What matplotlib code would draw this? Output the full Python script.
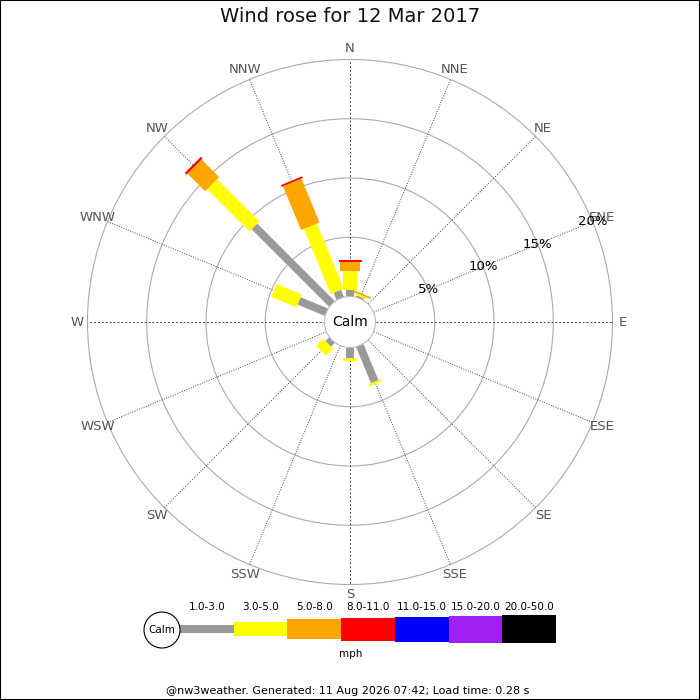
import numpy as np
import matplotlib
matplotlib.use("Agg")
import matplotlib.pyplot as plt
from matplotlib.patches import Rectangle, Circle
from matplotlib.transforms import Affine2D

# directions (compass, clockwise from north)
directions = ["N", "NNE", "NE", "ENE", "E", "ESE", "SE", "SSE",
              "S", "SSW", "SW", "WSW", "W", "WNW", "NW", "NNW"]
angles = np.arange(len(directions)) * 22.5

speed_bins = ["1.0-3.0", "3.0-5.0", "5.0-8.0", "8.0-11.0",
              "11.0-15.0", "15.0-20.0", "20.0-50.0"]
bin_colors = ["#999999", "#ffff00", "#ffa500", "#ff0000",
              "#0000ff", "#a020f0", "#000000"]

# % of time per direction, per speed bin
freq_1_3 = [0.55, 0.15, 0, 0, 0, 0, 0, 3.3, 0.9, 0, 0.45, 0, 0, 2.5, 9.25, 0.65]
freq_3_5 = [1.6, 0.15, 0, 0, 0, 0, 0, 0.2, 0.2, 0, 0.85, 0, 0, 2.3, 5.05, 5.95]
freq_5_8 = [0.75, 0.15, 0, 0, 0, 0, 0, 0, 0, 0, 0, 0, 0, 0, 2.1, 4.0]
freq_8_11 = [0.15, 0, 0, 0, 0, 0, 0, 0, 0, 0, 0, 0, 0, 0, 0.2, 0.15]
freq_11_15 = [0] * 16
freq_15_20 = [0] * 16
freq_20_50 = [0] * 16
freqs = [freq_1_3, freq_3_5, freq_5_8, freq_8_11, freq_11_15, freq_15_20, freq_20_50]

rings = [5, 10, 15, 20]

# bar thickness per speed bin (pixels)
bar_px = [8, 14, 20, 23, 25, 27, 28]

PX = 11.85              # pixels per percent
CALM_R = 25.5 / PX      # calm circle radius in percent units
LABEL_R = 273 / PX

fig = plt.figure(figsize=(7, 7), dpi=100)
half = 25
w_frac = 2 * half * PX / 700
ax = fig.add_axes([(350 - half * PX) / 700, (378 - half * PX) / 700, w_frac, w_frac])
ax.set_xlim(-half, half)
ax.set_ylim(-half, half)
ax.set_aspect("equal")
ax.axis("off")

# rings
for r in rings:
    ax.add_patch(Circle((0, 0), CALM_R + r, fill=False, ec="#aaaaaa", lw=0.8, zorder=1))

# spokes + direction labels
for d, a in zip(directions, angles):
    t = np.deg2rad(90 - a)
    ls = (0, (2, 2)) if d in ("N", "E", "S", "W") else (0, (1, 1.5))
    ax.plot([CALM_R * np.cos(t), (CALM_R + rings[-1]) * np.cos(t)],
            [CALM_R * np.sin(t), (CALM_R + rings[-1]) * np.sin(t)],
            ls=ls, color="#444444", lw=0.7, zorder=2)
    ax.text(LABEL_R * np.cos(t), LABEL_R * np.sin(t), d, ha="center", va="center",
            color="#555555", fontsize=9.5)

# stacked bars
for i, a in enumerate(angles):
    r0 = CALM_R
    rot = Affine2D().rotate_deg(90 - a) + ax.transData
    for k in range(len(speed_bins)):
        v = freqs[k][i]
        if v <= 0:
            continue
        w = bar_px[k] / PX
        ax.add_patch(Rectangle((r0, -w / 2), v, w, fc=bin_colors[k], ec="none",
                               transform=rot, zorder=3))
        r0 += v

# calm circle
ax.add_patch(Circle((0, 0), CALM_R, fc="white", ec="#bbbbbb", lw=0.8, zorder=5))
ax.text(0, 0, "Calm", ha="center", va="center", fontsize=10, zorder=6)

# ring labels along ENE
t = np.deg2rad(90 - 67.5)
for r in rings:
    ax.text((CALM_R + r) * np.cos(t), (CALM_R + r) * np.sin(t), f"{r}%",
            ha="center", va="center", fontsize=9.5, color="black", zorder=7)

# legend (pixel coords)
lax = fig.add_axes([0, 0, 1, 1], zorder=-1)
lax.set_xlim(0, 700)
lax.set_ylim(700, 0)
lax.axis("off")
box_w = 53.7
for k, lab in enumerate(speed_bins):
    x0 = 180 + k * box_w
    h = bar_px[k]
    lax.add_patch(Rectangle((x0, 629 - h / 2), box_w, h, fc=bin_colors[k], ec="none"))
    lax.text(x0 + box_w / 2, 607, lab, ha="center", va="center", fontsize=7.5)
lax.add_patch(Circle((162, 630), 18, fc="white", ec="black", lw=0.8))
lax.text(162, 630, "Calm", ha="center", va="center", fontsize=7.5)
lax.text(351, 654, "mph", ha="center", va="center", fontsize=7.5)

fig.text(0.5, 1 - 17 / 700, "Wind rose for 12 Mar 2017", ha="center", va="center",
         fontsize=14, color="#111111")
fig.text(348 / 700, 1 - 691 / 700,
         "@nw3weather. Generated: 11 Aug 2026 07:42; Load time: 0.28 s",
         ha="center", va="center", fontsize=8)

fig.patches.append(Rectangle((0, 0), 1, 1, transform=fig.transFigure, fill=False,
                             ec="black", lw=1.5))

fig.savefig("out.png", dpi=100)
